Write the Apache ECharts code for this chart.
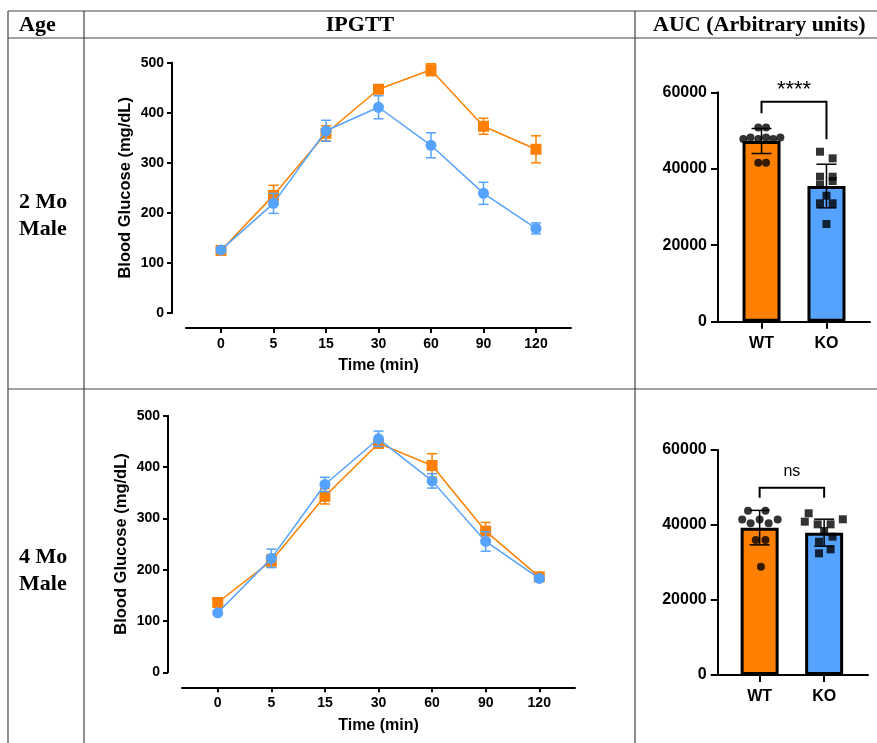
<!DOCTYPE html>
<html>
<head>
<meta charset="utf-8">
<script src="https://cdn.jsdelivr.net/npm/echarts@6/dist/echarts.min.js"></script>
<style>
html,body{margin:0;padding:0;background:#fff;}
#c{width:877px;height:743px;}
</style>
</head>
<body>
<div id="c"></div>
<script>
// ---------- data ----------
const timeLabels = ['0', '5', '15', '30', '60', '90', '120'];
const timeIdx = [0, 1, 2, 3, 4, 5, 6];

const ipgtt2Wt = [125, 235, 359, 447, 486, 373, 327];
const ipgtt2WtErr = [6, 20, 15, 8, 12, 16, 27];
const ipgtt2Ko = [126, 219, 364, 411, 335, 239, 169];
const ipgtt2KoErr = [5, 20, 21, 23, 25, 22, 11];

const ipgtt4Wt = [136, 217, 343, 446, 403, 275, 186];
const ipgtt4WtErr = [5, 12, 15, 8, 23, 17, 5];
const ipgtt4Ko = [116, 222, 366, 455, 373, 255, 183];
const ipgtt4KoErr = [4, 18, 14, 15, 14, 19, 5];

const groups = ['WT', 'KO'];
const auc2Mean = [47260, 35490];
const auc2Err = [3270, 5700];
const auc4Mean = [39300, 37950];
const auc4Err = [4600, 3600];

const auc2WtVals = [50800, 50800, 47800, 48200, 47800, 48200, 47800, 48200, 41600, 41600];
const auc2WtJit = [-0.05, 0.07, -0.28, -0.17, -0.05, 0.07, 0.18, 0.29, -0.05, 0.07];
const auc2KoVals = [44460, 42730, 37930, 37930, 35750, 36800, 32960, 30970, 30970, 25550];
const auc2KoJit = [-0.10, 0.095, -0.10, 0.095, -0.10, 0.095, 0.0, -0.10, 0.095, 0.0];

const auc4WtVals = [43800, 43800, 41500, 40500, 41500, 40500, 41500, 36000, 36000, 28900];
const auc4WtJit = [-0.18, 0.09, -0.27, -0.14, 0.0, 0.14, 0.28, -0.06, 0.09, 0.02];
const auc4KoVals = [43120, 40890, 41520, 40180, 40180, 38400, 35560, 36890, 32450, 33520];
const auc4KoJit = [-0.24, -0.30, 0.29, -0.10, 0.10, 0.0, -0.08, 0.13, -0.08, 0.10];

// significance annotations: [x0, x1, top, leftLegEnd, rightLegEnd, textY]
const sig2 = {label: '****', size: 22, bracket: [0, 1, 57540, 54500, 47700, 60600]};
const sig4 = {label: 'ns', size: 16, bracket: [0, 1, 49950, 47290, 47290, 54300]};

// ---------- styles ----------
const ORANGE = '#FF8000';
const BLUE = '#56A2FF';
const SANS = '"Liberation Sans", Arial, sans-serif';
const SERIF = '"Liberation Serif", "Times New Roman", serif';

function pairs(xs, ys) { return xs.map((x, i) => [x, ys[i]]); }
function triples(xs, ys, es) { return xs.map((x, i) => [x, ys[i], es[i]]); }

function errRender(color, cap, lw) {
  return function (params, api) {
    const x = api.value(0), y = api.value(1), e = api.value(2);
    const hi = api.coord([x, y + e]);
    const lo = api.coord([x, y - e]);
    const st = {stroke: color, lineWidth: lw};
    return {
      type: 'group',
      children: [
        {type: 'line', shape: {x1: hi[0], y1: hi[1], x2: lo[0], y2: lo[1]}, style: st},
        {type: 'line', shape: {x1: hi[0] - cap, y1: hi[1], x2: hi[0] + cap, y2: hi[1]}, style: st},
        {type: 'line', shape: {x1: lo[0] - cap, y1: lo[1], x2: lo[0] + cap, y2: lo[1]}, style: st}
      ]
    };
  };
}

function sigRender(label, size) {
  return function (params, api) {
    const x0 = api.value(0), x1 = api.value(1), top = api.value(2);
    const l = api.value(3), r = api.value(4), ty = api.value(5);
    const a = api.coord([x0, l]), b = api.coord([x0, top]);
    const c = api.coord([x1, top]), d = api.coord([x1, r]);
    const t = api.coord([(x0 + x1) / 2, ty]);
    return {
      type: 'group',
      children: [
        {type: 'polyline', shape: {points: [a, b, c, d]}, style: {stroke: '#000', lineWidth: 2, fill: null}},
        {type: 'text', x: t[0], y: t[1], style: {text: label, fill: '#000', font: size + 'px ' + SANS, align: 'center', verticalAlign: 'middle'}}
      ]
    };
  };
}

function lineXAxis(gi) {
  return {
    type: 'value', gridIndex: gi, min: -0.667, max: 6.667, offset: 15,
    axisLine: {show: true, onZero: false, lineStyle: {color: '#000', width: 2}},
    axisTick: {show: true, customValues: timeIdx, length: 5, lineStyle: {color: '#000', width: 2}},
    axisLabel: {customValues: timeIdx, formatter: v => timeLabels[Math.round(v)], color: '#000',
      fontFamily: SANS, fontWeight: 'bold', fontSize: 14, margin: 9},
    splitLine: {show: false},
    name: 'Time (min)', nameLocation: 'middle', nameGap: 38,
    nameTextStyle: {color: '#000', fontFamily: SANS, fontWeight: 'bold', fontSize: 16, verticalAlign: 'middle'}
  };
}
function lineYAxis(gi) {
  return {
    type: 'value', gridIndex: gi, min: 0, max: 500, interval: 100, offset: 14,
    axisLine: {show: true, onZero: false, lineStyle: {color: '#000', width: 2}},
    axisTick: {show: true, length: 5, lineStyle: {color: '#000', width: 2}},
    axisLabel: {color: '#000', fontFamily: SANS, fontWeight: 'bold', fontSize: 14, margin: 8},
    splitLine: {show: false},
    name: 'Blood Glucose (mg/dL)', nameLocation: 'middle', nameGap: 47, nameRotate: 90,
    nameTextStyle: {color: '#000', fontFamily: SANS, fontWeight: 'bold', fontSize: 16.5, verticalAlign: 'middle'}
  };
}
function barXAxis(gi, mn, mx) {
  return {
    type: 'value', gridIndex: gi, min: mn, max: mx,
    axisLine: {show: true, onZero: false, lineStyle: {color: '#000', width: 2}},
    axisTick: {show: true, customValues: [0, 1], length: 7, lineStyle: {color: '#000', width: 2}},
    axisLabel: {customValues: [0, 1], formatter: v => groups[Math.round(v)], color: '#000',
      fontFamily: SANS, fontWeight: 'bold', fontSize: 16, margin: 14},
    splitLine: {show: false}
  };
}
function barYAxis(gi) {
  return {
    type: 'value', gridIndex: gi, min: 0, max: 60000, interval: 20000,
    axisLine: {show: true, onZero: false, lineStyle: {color: '#000', width: 2}},
    axisTick: {show: true, length: 7, lineStyle: {color: '#000', width: 2}},
    axisLabel: {color: '#000', fontFamily: SANS, fontWeight: 'bold', fontSize: 16, margin: 11,
      formatter: v => String(v)},
    splitLine: {show: false}
  };
}

function lineSeries(ai, ys, errs, color, symbol, zb) {
  return [
    {type: 'custom', xAxisIndex: ai, yAxisIndex: ai, data: triples(timeIdx, ys, errs),
      renderItem: errRender(color, 5, 1.5), z: zb, silent: true, clip: false},
    {type: 'line', xAxisIndex: ai, yAxisIndex: ai, data: pairs(timeIdx, ys), symbol: symbol,
      symbolSize: 11, showSymbol: true, lineStyle: {color: color, width: 1.5},
      itemStyle: {color: color, borderWidth: 0}, z: zb + 1, animation: false}
  ];
}

function barSeries(ai, means, errs, wtVals, wtJit, koVals, koJit, sig) {
  return [
    {type: 'bar', xAxisIndex: ai, yAxisIndex: ai, barWidth: 38,
      data: [
        {value: [0, means[0]], itemStyle: {color: ORANGE}},
        {value: [1, means[1]], itemStyle: {color: BLUE}}
      ],
      itemStyle: {borderColor: '#000', borderWidth: 3}, z: 2},
    {type: 'scatter', xAxisIndex: ai, yAxisIndex: ai, symbol: 'circle', symbolSize: 8,
      data: pairs(wtJit, wtVals), itemStyle: {color: '#000'}, z: 3},
    {type: 'scatter', xAxisIndex: ai, yAxisIndex: ai, symbol: 'rect', symbolSize: 8,
      data: pairs(koJit.map(j => 1 + j), koVals), itemStyle: {color: '#000'}, z: 3},
    {type: 'custom', xAxisIndex: ai, yAxisIndex: ai, data: triples([0, 1], means, errs),
      renderItem: errRender('#000', 10, 1.5), z: 4, silent: true, clip: false},
    {type: 'custom', xAxisIndex: ai, yAxisIndex: ai, data: [sig.bracket],
      renderItem: sigRender(sig.label, sig.size), z: 4, silent: true, clip: false}
  ];
}

// ---------- table ----------
const LC = '#444';
function hl(y, x1, x2) { return {type: 'line', shape: {x1: x1, y1: y, x2: x2, y2: y}, style: {stroke: LC, lineWidth: 1.2}}; }
function vl(x, y1, y2) { return {type: 'line', shape: {x1: x, y1: y1, x2: x, y2: y2}, style: {stroke: LC, lineWidth: 1.2}}; }
// baseline -> em-box middle for 22px serif
function tx(t, x, baseline, align) {
  return {type: 'text', x: x, y: baseline - 7.4, style: {text: t, fill: '#000', font: 'bold 22px ' + SERIF, align: align || 'left', verticalAlign: 'middle'}};
}

const chart = echarts.init(document.getElementById('c'), null, {renderer: 'canvas'});
chart.setOption({
  animation: false,
  backgroundColor: '#fff',
  grid: [
    {left: 186, top: 62.7, width: 385, height: 250.3},
    {left: 182, top: 415.7, width: 393, height: 256.6},
    {left: 718, top: 92.3, width: 152, height: 229.4},
    {left: 717.7, top: 450, width: 150.3, height: 225}
  ],
  xAxis: [lineXAxis(0), lineXAxis(1), barXAxis(2, -0.67, 1.67), barXAxis(3, -0.65, 1.68)],
  yAxis: [lineYAxis(0), lineYAxis(1), barYAxis(2), barYAxis(3)],
  series: [].concat(
    lineSeries(0, ipgtt2Wt, ipgtt2WtErr, ORANGE, 'rect', 2),
    lineSeries(0, ipgtt2Ko, ipgtt2KoErr, BLUE, 'circle', 4),
    lineSeries(1, ipgtt4Wt, ipgtt4WtErr, ORANGE, 'rect', 2),
    lineSeries(1, ipgtt4Ko, ipgtt4KoErr, BLUE, 'circle', 4),
    barSeries(2, auc2Mean, auc2Err, auc2WtVals, auc2WtJit, auc2KoVals, auc2KoJit, sig2),
    barSeries(3, auc4Mean, auc4Err, auc4WtVals, auc4WtJit, auc4KoVals, auc4KoJit, sig4)
  ),
  graphic: [
    hl(11, 8, 877), hl(38, 8, 877), hl(389, 8, 877),
    vl(8, 11, 743), vl(84, 11, 743), vl(635, 11, 743),
    tx('Age', 19, 33),
    tx('IPGTT', 360, 33, 'center'),
    tx('AUC (Arbitrary units)', 653, 33),
    tx('2 Mo', 19, 210),
    tx('Male', 19, 237),
    tx('4 Mo', 19, 565),
    tx('Male', 19, 592)
  ]
});
</script>
</body>
</html>
